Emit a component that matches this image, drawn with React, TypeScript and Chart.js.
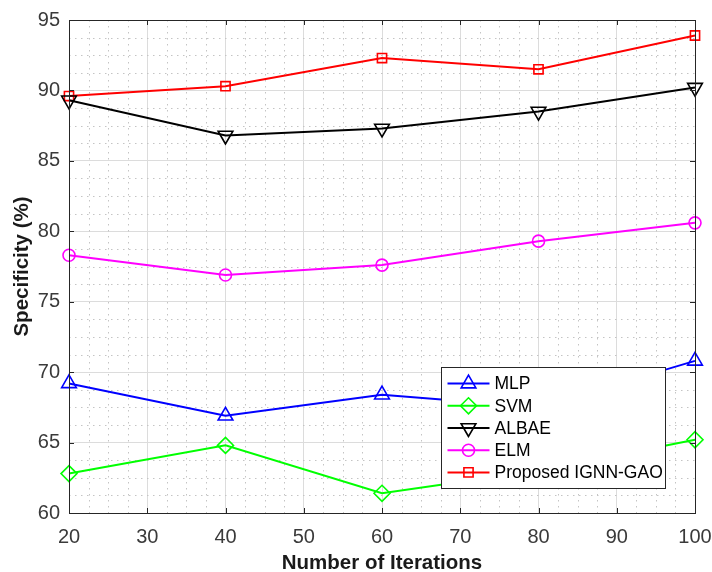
import React, { useEffect, useRef } from 'react';
import { Chart, registerables } from 'chart.js';

Chart.register(...registerables);

const iterations = [20, 40, 60, 80, 100];
const mlpValues = [69.2, 66.9, 68.4, 67.5, 70.8];
const svmValues = [62.8, 64.8, 61.4, 63.0, 65.2];
const albaeValues = [89.3, 86.8, 87.3, 88.5, 90.2];
const elmValues = [78.3, 76.9, 77.6, 79.3, 80.6];
const proposedValues = [89.6, 90.3, 92.3, 91.5, 93.9];

const seriesLabels = ['MLP', 'SVM', 'ALBAE', 'ELM', 'Proposed IGNN-GAO'];
const xTickValues = [20, 30, 40, 50, 60, 70, 80, 90, 100];
const yTickValues = [60, 65, 70, 75, 80, 85, 90, 95];

const FONT = "'Liberation Sans', Arial, sans-serif";
const AXIS = '#262626';
const TICK_TEXT = '#3a3a3a';

type Style = { color: string; shape: string; radius: number; rotation: number };
const styles: Style[] = [
  { color: '#0000ff', shape: 'triangle', radius: 8.5, rotation: 0 },
  { color: '#00ff00', shape: 'rectRot', radius: 8, rotation: 0 },
  { color: '#000000', shape: 'triangle', radius: 8.5, rotation: 180 },
  { color: '#ff00ff', shape: 'circle', radius: 6, rotation: 0 },
  { color: '#ff0000', shape: 'rect', radius: 6.5, rotation: 0 },
];

function drawMarker(ctx: CanvasRenderingContext2D, s: Style, x: number, y: number) {
  ctx.save();
  ctx.strokeStyle = s.color;
  ctx.lineWidth = 1.6;
  ctx.beginPath();
  const r = s.radius;
  if (s.shape === 'triangle') {
    let rad = (s.rotation * Math.PI) / 180;
    for (let i = 0; i < 3; i++) {
      const px = x + Math.sin(rad) * r;
      const py = y - Math.cos(rad) * r;
      if (i === 0) ctx.moveTo(px, py);
      else ctx.lineTo(px, py);
      rad += (2 * Math.PI) / 3;
    }
    ctx.closePath();
  } else if (s.shape === 'rectRot') {
    ctx.moveTo(x - r, y);
    ctx.lineTo(x, y - r);
    ctx.lineTo(x + r, y);
    ctx.lineTo(x, y + r);
    ctx.closePath();
  } else if (s.shape === 'circle') {
    ctx.arc(x, y, r, 0, Math.PI * 2);
  } else {
    const h = r * Math.SQRT1_2;
    ctx.rect(x - h, y - h, 2 * h, 2 * h);
  }
  ctx.stroke();
  ctx.restore();
}

const gridPlugin = {
  id: 'matlabGrid',
  beforeDatasetsDraw(chart: any) {
    const { ctx, chartArea, scales } = chart;
    const { left, right, top, bottom } = chartArea;
    ctx.save();
    ctx.strokeStyle = '#c4c4c4';
    ctx.lineWidth = 1;
    ctx.setLineDash([1.5, 4.5]);
    for (let v = 20; v <= 100.001; v += 2.5) {
      if (Math.abs((v - 20) % 10) < 1e-6) continue;
      const px = Math.round(scales.x.getPixelForValue(v)) + 0.5;
      ctx.beginPath();
      ctx.moveTo(px, top);
      ctx.lineTo(px, bottom);
      ctx.stroke();
    }
    for (let v = 60; v <= 95.001; v += 1.25) {
      if (Math.abs((v - 60) % 5) < 1e-6) continue;
      const py = Math.round(scales.y.getPixelForValue(v)) + 0.5;
      ctx.beginPath();
      ctx.moveTo(left, py);
      ctx.lineTo(right, py);
      ctx.stroke();
    }
    ctx.restore();
  },
  afterDatasetsDraw(chart: any) {
    const { ctx, chartArea, scales } = chart;
    const { left, right, top, bottom } = chartArea;
    ctx.save();
    ctx.strokeStyle = AXIS;
    ctx.lineWidth = 1;
    ctx.strokeRect(Math.round(left) + 0.5, Math.round(top) + 0.5, Math.round(right - left), Math.round(bottom - top));
    const tl = 5;
    xTickValues.forEach((v) => {
      const px = Math.round(scales.x.getPixelForValue(v)) + 0.5;
      ctx.beginPath();
      ctx.moveTo(px, bottom);
      ctx.lineTo(px, bottom - tl);
      ctx.moveTo(px, top);
      ctx.lineTo(px, top + tl);
      ctx.stroke();
    });
    yTickValues.forEach((v) => {
      const py = Math.round(scales.y.getPixelForValue(v)) + 0.5;
      ctx.beginPath();
      ctx.moveTo(left, py);
      ctx.lineTo(left + tl, py);
      ctx.moveTo(right, py);
      ctx.lineTo(right - tl, py);
      ctx.stroke();
    });
    ctx.restore();
  },
  afterDraw(chart: any) {
    const { ctx, scales } = chart;
    // legend box anchored in data coordinates (lower right of the axes)
    const bx0 = Math.round(scales.x.getPixelForValue(67.6)) + 0.5;
    const bx1 = Math.round(scales.x.getPixelForValue(96.2)) + 0.5;
    const by0 = Math.round(scales.y.getPixelForValue(70.4)) + 0.5;
    const by1 = Math.round(scales.y.getPixelForValue(61.75)) + 0.5;
    ctx.save();
    ctx.fillStyle = '#ffffff';
    ctx.fillRect(bx0, by0, bx1 - bx0, by1 - by0);
    ctx.strokeStyle = AXIS;
    ctx.lineWidth = 1;
    ctx.strokeRect(bx0, by0, bx1 - bx0, by1 - by0);
    const rowH = (by1 - by0 - 10) / 5;
    ctx.font = `17.5px ${FONT}`;
    ctx.textBaseline = 'middle';
    ctx.textAlign = 'left';
    seriesLabels.forEach((label, i) => {
      const s = styles[i];
      const cy = by0 + 5 + rowH * (i + 0.5);
      ctx.strokeStyle = s.color;
      ctx.lineWidth = 2;
      ctx.beginPath();
      ctx.moveTo(bx0 + 6, cy);
      ctx.lineTo(bx0 + 48, cy);
      ctx.stroke();
      drawMarker(ctx, s, bx0 + 27, cy);
      ctx.fillStyle = '#000000';
      ctx.fillText(label, bx0 + 53, cy + 1);
    });
    ctx.restore();
  },
};

export default function App() {
  const canvasRef = useRef<HTMLCanvasElement | null>(null);

  useEffect(() => {
    if (!canvasRef.current) return;
    const seriesValues = [mlpValues, svmValues, albaeValues, elmValues, proposedValues];
    const datasets = seriesValues.map((vals, i) => ({
      label: seriesLabels[i],
      data: iterations.map((x, j) => ({ x, y: vals[j] })),
      borderColor: styles[i].color,
      backgroundColor: 'rgba(0,0,0,0)',
      borderWidth: 2,
      pointStyle: styles[i].shape as any,
      pointRadius: styles[i].radius,
      pointRotation: styles[i].rotation,
      pointBorderWidth: 1.6,
      pointBorderColor: styles[i].color,
      pointBackgroundColor: 'rgba(0,0,0,0)',
      tension: 0,
      clip: false as any,
    }));

    const chart = new Chart(canvasRef.current, {
      type: 'line',
      data: { datasets },
      options: {
        responsive: false,
        animation: false,
        events: [],
        layout: { padding: { top: 20, right: 17, left: 0, bottom: 0 } },
        plugins: { legend: { display: false }, tooltip: { enabled: false } },
        scales: {
          x: {
            type: 'linear',
            min: 20,
            max: 100,
            afterBuildTicks: (scale: any) => {
              scale.ticks = xTickValues.map((v) => ({ value: v }));
            },
            afterFit: (scale: any) => {
              scale.height = 59;
              scale.paddingLeft = 0;
              scale.paddingRight = 0;
            },
            ticks: { color: TICK_TEXT, font: { family: FONT, size: 20 }, padding: 12, maxRotation: 0 },
            grid: { color: '#dcdcdc', lineWidth: 1, drawTicks: false },
            border: { color: AXIS, width: 1 },
            title: {
              display: true,
              text: 'Number of Iterations',
              color: '#1a1a1a',
              font: { family: FONT, size: 20.5, weight: 'bold' },
              padding: { top: 0, bottom: -4 },
            },
          },
          y: {
            type: 'linear',
            min: 60,
            max: 95,
            afterBuildTicks: (scale: any) => {
              scale.ticks = yTickValues.map((v) => ({ value: v }));
            },
            afterFit: (scale: any) => {
              scale.width = 69;
              scale.paddingTop = 0;
              scale.paddingBottom = 0;
            },
            ticks: { color: TICK_TEXT, font: { family: FONT, size: 20 }, padding: 9 },
            grid: { color: '#dcdcdc', lineWidth: 1, drawTicks: false },
            border: { color: AXIS, width: 1 },
            title: {
              display: true,
              text: 'Specificity (%)',
              color: '#1a1a1a',
              font: { family: FONT, size: 20.5, weight: 'bold' },
              padding: { top: 10, bottom: 0 },
            },
          },
        },
      },
      plugins: [gridPlugin],
    });
    return () => chart.destroy();
  }, []);

  return (
    <div style={{ position: 'fixed', left: 0, top: 0, width: 712, height: 572, background: '#fff' }}>
      <canvas ref={canvasRef} width={712} height={572} style={{ display: 'block' }} />
    </div>
  );
}
